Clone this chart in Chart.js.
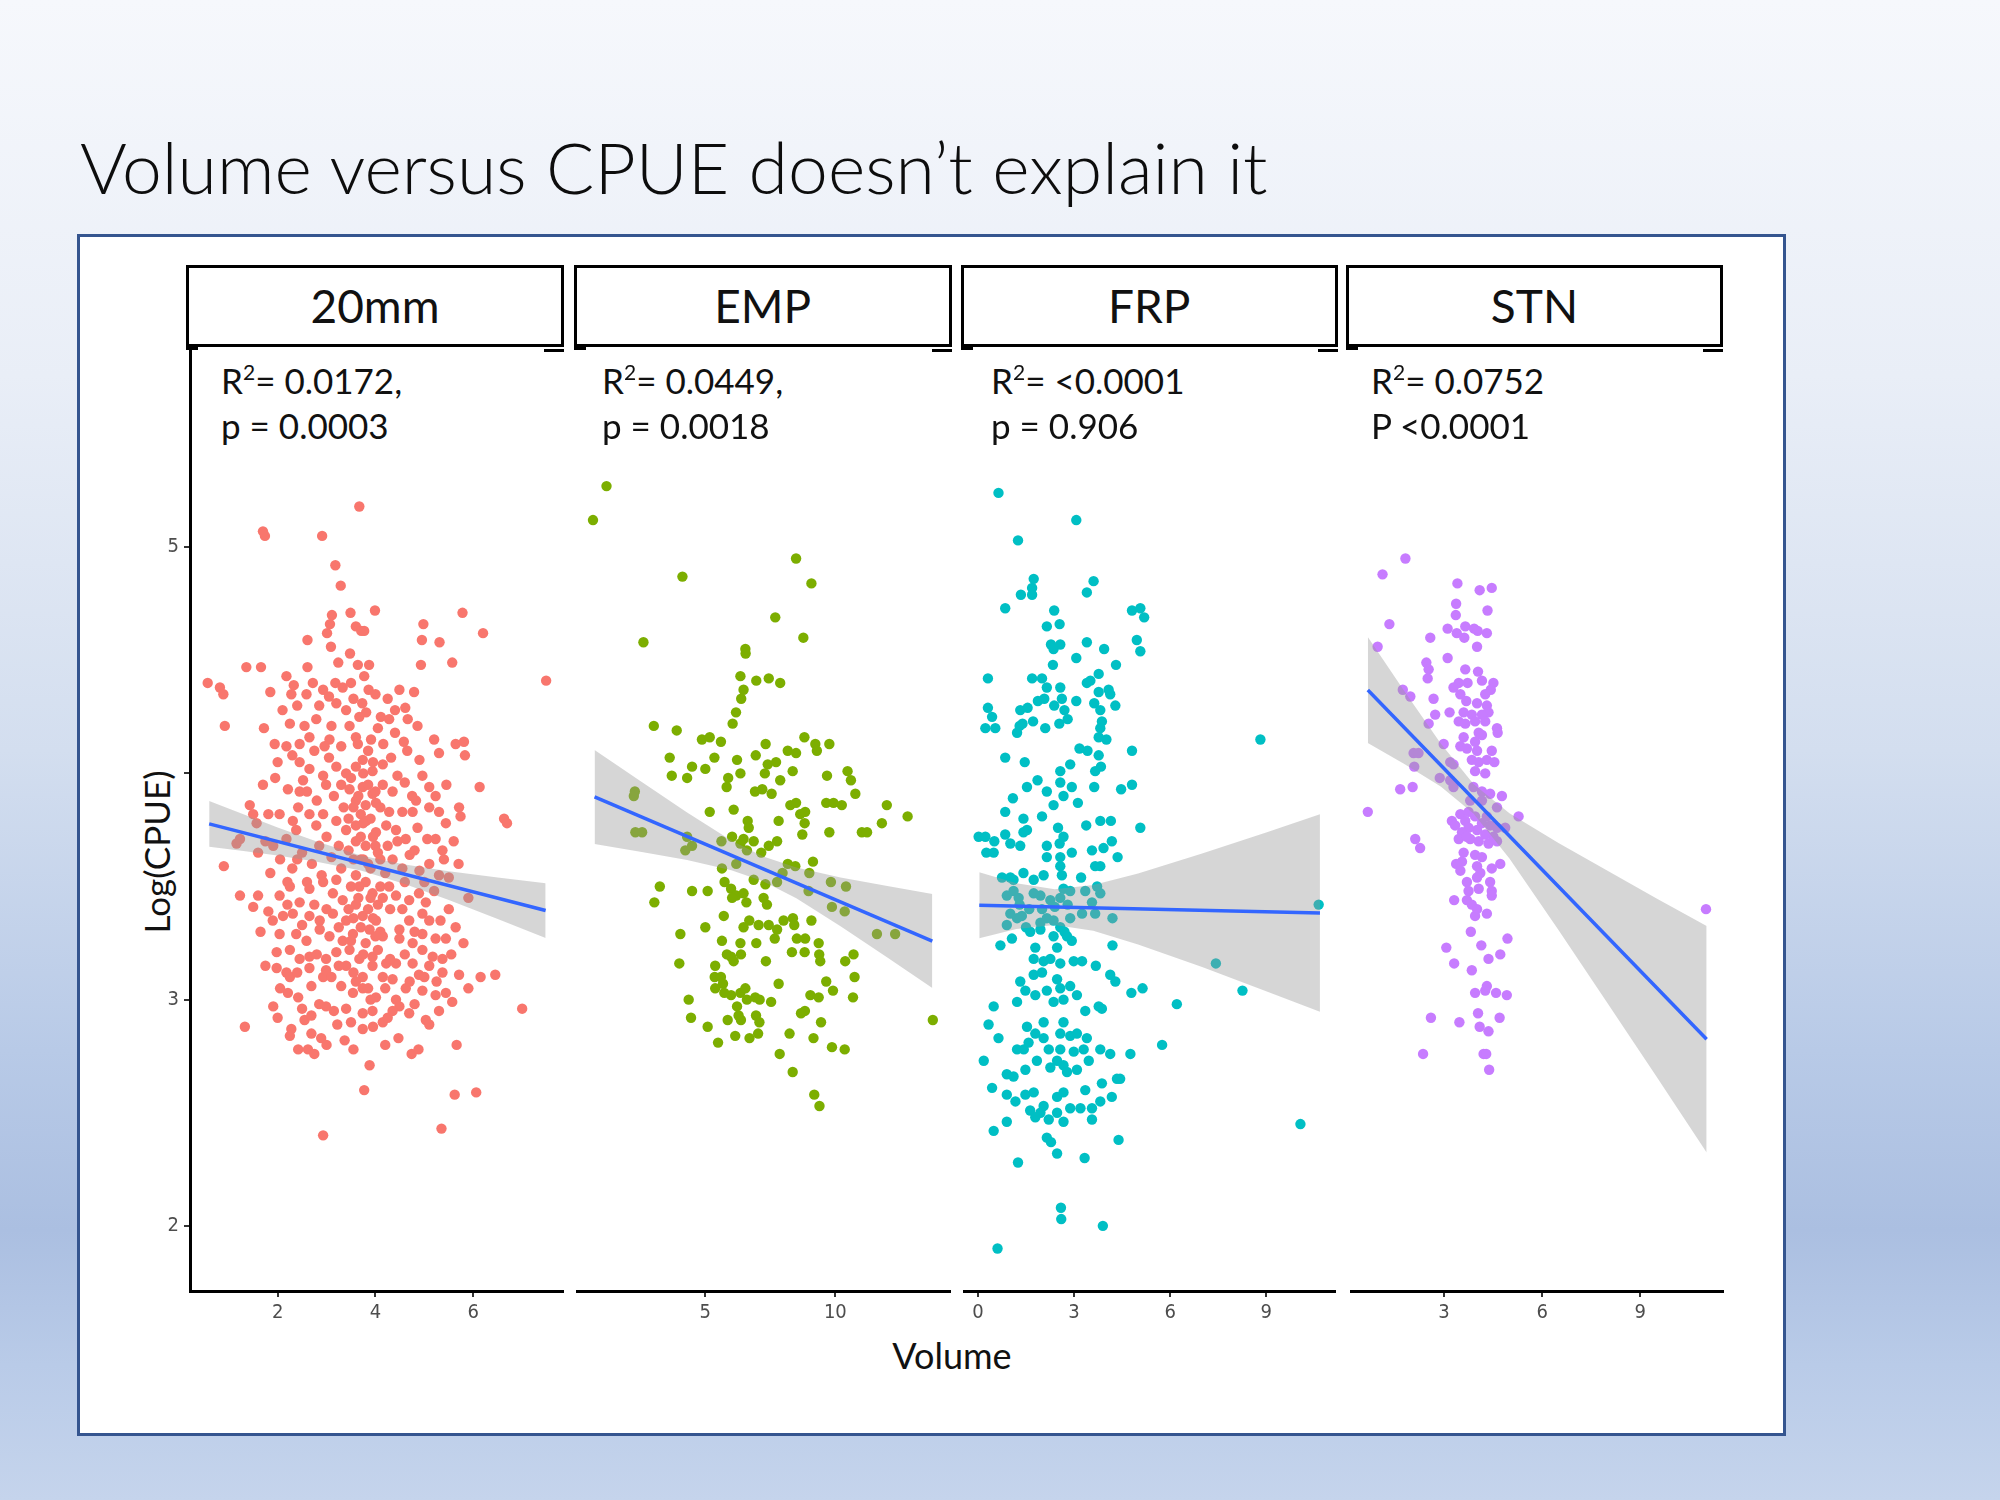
<!DOCTYPE html>
<html>
<head>
<meta charset="utf-8">
<title>Volume versus CPUE</title>
<script src="https://cdn.jsdelivr.net/npm/chart.js@4.4.1/dist/chart.umd.min.js"></script>
<style>
html, body { margin: 0; padding: 0; }
body {
  width: 2000px; height: 1500px; position: relative; overflow: hidden;
  background: linear-gradient(to bottom, #f6f8fc 0%, #e9eef7 25%, #d3deef 50%, #b8cae7 70%, #abbfe1 82%, #b9cbe8 91%, #c5d4ec 100%);
  font-family: Lato, 'Open Sans', sans-serif; color: #111;
}
#title { position: absolute; left: 80px; top: 131px; font-size: 71.5px; line-height: 1; font-weight: 300; white-space: nowrap; color: #0d0d0d; }
#frame { position: absolute; left: 77px; top: 234px; width: 1703px; height: 1196px; background: #fff; border: 3px solid #35558f; }
.strip { position: absolute; top: 265px; height: 82px; box-sizing: border-box; border: 3px solid #000; background: #fff;
  display: flex; align-items: center; justify-content: center; font-size: 46px; line-height: 1; }
.mk { position: absolute; top: 347px; height: 3px; background: #000; }
.ann { position: absolute; font-size: 35px; line-height: 1; white-space: nowrap; }
.ann .sup { font-size: 21px; position: relative; top: -14px; }
.panel { position: absolute; }
#xtitle { position: absolute; left: 952px; top: 1337px; font-size: 36px; line-height: 1; transform: translateX(-50%); white-space: nowrap; }
#ytitle { position: absolute; left: 156px; top: 852px; font-size: 35px; line-height: 1; white-space: nowrap;
  transform: translate(-50%, -50%) rotate(-90deg); }
</style>
</head>
<body>
<div id="title">Volume versus CPUE doesn’t explain it</div>
<div id="frame"></div>
<div id="ytitle">Log(CPUE)</div>
<div id="xtitle">Volume</div>
<script>
// facet labels and the fit statistics printed in each panel
const facets = ['20mm', 'EMP', 'FRP', 'STN'];
const statLine1 = ['R<span class="sup">2</span>= 0.0172,', 'R<span class="sup">2</span>= 0.0449,', 'R<span class="sup">2</span>= &lt;0.0001', 'R<span class="sup">2</span>= 0.0752'];
const statLine2 = ['p = 0.0003', 'p = 0.0018', 'p = 0.906', 'P &lt;0.0001'];

// y axis (shared)
const yTicks = [2, 3, 4, 5];
const yTickLabels = ['2', '3', '', '5'];

// x axis ticks per facet
const xTicks20mm = [2, 4, 6];
const xTicksEMP = [5, 10];
const xTicksFRP = [0, 3, 6, 9];
const xTicksSTN = [3, 6, 9];

// observations [volume, log(CPUE)]
const pts20mm = [
[3.67,5.18],[1.74,5.05],[1.70,5.07],[2.91,5.05],[3.18,4.92],[3.29,4.83],[3.11,4.70],[3.49,4.71],[3.99,4.72],[5.78,4.71],[4.98,4.66],[6.20,4.62],[3.07,4.66],[3.01,4.62],[3.60,4.65],[3.71,4.63],[3.77,4.63],[2.61,4.59],[3.09,4.56],[4.95,4.59],[5.31,4.58],[3.48,4.53],[3.24,4.49],[3.64,4.48],[3.87,4.48],[2.61,4.47],[1.36,4.47],[1.66,4.47],[4.93,4.48],[5.57,4.49],[7.49,4.41],[0.57,4.40],[0.82,4.38],[0.89,4.35],[1.85,4.36],[2.18,4.43],[2.33,4.39],[2.28,4.35],[2.59,4.35],[2.72,4.40],[2.93,4.37],[3.18,4.40],[3.33,4.38],[3.50,4.40],[3.77,4.43],[3.86,4.37],[4.49,4.37],[4.79,4.36],[3.20,4.31],[3.40,4.28],[3.73,4.31],[4.61,4.29],[4.66,4.24],[4.86,4.21],[4.28,4.24],[4.11,4.25],[3.81,4.27],[3.67,4.25],[0.92,4.21],[1.72,4.20],[2.25,4.22],[2.55,4.21],[2.79,4.24],[3.10,4.21],[2.65,4.16],[3.06,4.15],[3.47,4.21],[3.91,4.15],[4.16,4.13],[4.58,4.14],[3.60,4.16],[3.64,4.13],[1.94,4.13],[2.18,4.12],[2.96,4.12],[2.45,4.13],[5.30,4.09],[5.64,4.13],[5.81,4.14],[5.83,4.08],
[2.45,4.05],[2.65,4.02],[2.52,3.97],[3.20,4.03],[3.40,4.00],[3.60,4.03],[3.74,4.06],[3.94,4.01],[4.15,4.04],[4.32,4.07],[4.45,3.99],[4.96,3.99],[5.10,3.94],[5.23,3.90],[6.13,3.94],[2.21,3.93],[2.45,3.92],[2.93,3.99],[2.99,3.95],
[3.47,3.93],[3.74,3.94],[3.94,3.91],[3.60,3.88],[4.01,3.87],[4.28,3.83],[4.55,3.83],[4.76,3.83],[4.83,3.88],[5.10,3.85],[5.30,3.83],[5.44,3.78],[5.71,3.85],[5.74,3.81],[6.63,3.80],[6.69,3.78],
[1.43,3.86],[1.50,3.82],[1.81,3.82],[2.04,3.82],[2.31,3.79],[2.42,3.85],[2.65,3.82],[2.79,3.77],[2.93,3.82],[3.20,3.79],[3.40,3.75],[3.60,3.77],[3.81,3.79],[4.01,3.74],[4.22,3.77],[4.42,3.75],[4.62,3.71],[4.86,3.76],[5.06,3.71],[5.23,3.71],[5.37,3.66],[5.40,3.62],
[1.16,3.69],[1.23,3.71],[1.57,3.78],[1.91,3.68],[2.18,3.71],[2.38,3.75],[0.90,3.59],
[2.05,3.62],[2.30,3.58],[2.50,3.65],[2.70,3.60],[2.90,3.55],[3.10,3.63],[3.30,3.58],[3.45,3.66],[3.60,3.55],[3.75,3.62],[3.90,3.58],[4.05,3.65],[4.20,3.56],[4.35,3.62],[4.55,3.58],[4.70,3.64],[4.90,3.57],[5.10,3.60],[5.30,3.55],[3.50,3.50],[3.80,3.52],[4.10,3.50],[2.60,3.52],[3.20,3.53],[1.85,3.56],[4.60,3.52],[5.50,3.54],[5.20,3.48],[3.65,3.90],[3.80,3.86],[3.90,3.80],[3.70,3.82],[3.85,3.95],[4.00,3.92],[3.55,3.85],[3.75,3.78],[3.95,3.72],[3.60,3.70],[3.80,3.68],[4.00,3.68],[3.70,3.62],
[1.23,3.46],[1.60,3.46],[1.50,3.41],[1.81,3.39],[2.04,3.46],[2.25,3.50],[2.45,3.43],[2.65,3.49],[2.93,3.52],[3.13,3.47],[3.33,3.44],[3.67,3.50],[3.94,3.47],[4.28,3.50],[4.42,3.46],[4.69,3.44],[4.89,3.47],[5.03,3.43],
[2.11,3.37],[2.31,3.38],[2.65,3.37],[2.86,3.35],[3.13,3.38],[3.40,3.35],[3.74,3.37],[4.01,3.35],[4.49,3.31],[4.69,3.35],[4.96,3.38],[5.33,3.35],[5.64,3.32],
[3.60,3.42],[3.85,3.40],[4.05,3.42],[3.70,3.32],[3.95,3.36],[4.10,3.30],[3.55,3.36],[3.80,3.25],
[2.04,3.29],[2.38,3.29],[2.59,3.26],[2.86,3.31],[3.06,3.28],[3.33,3.26],[3.54,3.29],[3.88,3.31],[4.15,3.28],[4.49,3.27],[4.76,3.25],[4.96,3.29],[5.23,3.27],[5.44,3.27],
[1.98,3.21],[2.25,3.22],[2.45,3.18],[2.65,3.19],[2.99,3.18],[3.20,3.21],[3.47,3.22],[3.67,3.18],[3.94,3.19],[4.22,3.16],[4.42,3.16],[4.76,3.16],[4.96,3.22],[5.17,3.19],[5.37,3.18],
[1.98,3.14],[2.18,3.12],[2.25,3.10],[2.65,3.14],[2.93,3.10],[2.99,3.13],[3.40,3.15],[3.74,3.10],[3.94,3.15],[4.15,3.10],[4.35,3.09],[4.89,3.11],[5.10,3.15],[5.37,3.12],[5.71,3.11],[6.15,3.10],[6.45,3.11],
[2.21,3.03],[2.42,3.01],[2.69,3.06],[3.30,3.06],[3.54,3.03],[3.74,3.05],[4.01,3.01],[4.42,3.00],[4.62,3.05],[4.96,3.04],[5.23,3.02],[5.44,3.03],[5.57,2.99],
[1.91,2.97],[2.99,2.97],[3.40,2.96],[3.74,2.94],[3.94,2.95],[4.49,2.97],[4.69,2.94],[7.00,2.96],[5.03,2.91],[5.10,2.89],
[1.33,2.88],[2.28,2.87],[2.25,2.84],[2.55,2.91],[2.69,2.93],[2.69,2.85],[2.89,2.83],[3.22,2.89],[3.37,2.82],[3.74,2.87],[4.15,2.90],[4.25,2.92],[4.47,2.83],
[2.42,2.78],[2.62,2.78],[3.88,2.71],[4.74,2.76],[4.88,2.78],[5.66,2.80],
[3.77,2.60],[5.62,2.58],[6.06,2.59],[5.35,2.43],[2.93,2.40],
[2.10,4.28],[2.40,4.30],[2.85,4.30],[3.05,4.34],[3.55,4.33],[4.00,4.35],[4.25,4.33],[4.40,4.28],
[2.00,4.05],[2.30,4.08],[2.75,4.10],[3.05,4.07],[3.30,4.12],[3.85,4.10],[4.05,4.20],[4.40,4.18],[4.65,4.10],[4.90,4.06],[5.20,4.15],
[1.70,3.95],[1.95,3.98],[2.60,3.92],[2.80,3.88],[3.15,3.90],[3.35,3.85],[4.15,3.95],[4.35,3.92],[4.60,3.96],[4.75,3.90],[5.45,3.95],[5.60,3.70],
[1.60,3.65],[1.75,3.70],[2.20,3.52],[2.40,3.62],[2.85,3.68],[3.00,3.72],[3.25,3.68],[4.25,3.68],[4.45,3.70],[4.80,3.66],[5.00,3.52],[5.70,3.60],[5.90,3.45],
[1.65,3.30],[1.90,3.35],[2.20,3.42],[2.50,3.33],[2.75,3.42],[3.00,3.40],[3.25,3.32],[3.45,3.40],[4.30,3.40],[4.55,3.40],[4.80,3.30],[5.10,3.35],[5.50,3.40],[5.80,3.25],
[1.75,3.15],[2.05,3.05],[2.40,3.12],[2.80,3.20],[3.10,3.10],[3.25,3.15],[3.55,3.12],[3.85,3.05],[4.05,3.22],[4.30,3.18],[4.60,3.20],[4.70,3.08],[5.00,3.10],[5.25,3.08],[5.55,3.20],[5.90,3.05],
[2.00,2.92],[2.50,2.96],[2.85,2.98],[3.15,2.95],[3.50,2.90],[3.95,2.88],[4.35,2.95],[4.80,2.98],[5.30,2.95],[3.00,2.80],[3.55,2.78],[4.20,2.80],[2.75,2.76],
[3.30,3.95],[3.50,3.98],[3.75,4.00],[3.95,4.05],[4.10,3.85],[3.45,3.80],[3.70,3.72],[3.55,3.62],[3.85,3.60],[4.10,3.62],[3.65,3.45],[3.90,3.45],[4.15,3.45],[3.50,3.26],[3.75,3.20],[4.00,3.28],[3.60,3.08],[3.90,3.00],[4.20,3.05]
];
const ptsEMP = [
[1.20,5.27],[0.68,5.12],[8.49,4.95],[9.08,4.84],[4.12,4.87],[7.69,4.69],[8.77,4.60],[2.62,4.58],[6.54,4.55],[6.55,4.53],[6.35,4.43],[6.96,4.41],[7.44,4.42],[7.88,4.40],[6.47,4.37],[6.38,4.33],[6.18,4.27],[6.05,4.22],[3.02,4.21],[3.90,4.19],
[4.87,4.15],[5.17,4.16],[5.60,4.14],[7.32,4.13],[8.81,4.16],[9.23,4.13],[9.77,4.13],[8.17,4.10],[8.49,4.09],[9.29,4.10],
[3.63,4.07],[4.49,4.03],[5.00,4.02],[5.35,4.07],[6.22,4.06],[6.94,4.08],[7.40,4.04],[7.72,4.05],[8.36,4.01],[6.35,4.00],
[3.71,3.99],[4.30,3.98],[5.88,3.98],[5.82,3.94],[7.29,4.00],[7.88,3.97],[9.68,3.99],[10.47,4.01],[10.60,3.97],[6.91,3.92],[7.19,3.93],[7.55,3.91],[10.77,3.91],
[2.29,3.92],[2.25,3.90],
[8.27,3.86],[8.49,3.87],[9.65,3.87],[9.93,3.87],[10.25,3.86],[11.98,3.86],[12.78,3.81],
[5.17,3.83],[6.09,3.84],[6.63,3.79],[6.67,3.76],[7.82,3.79],[8.65,3.82],[8.84,3.83],[8.82,3.78],[8.73,3.73],[9.77,3.74],[11.02,3.74],[11.22,3.74],[11.79,3.78],
[2.31,3.74],[2.57,3.74],[4.30,3.72],[4.23,3.66],[4.49,3.68],[5.62,3.70],[6.03,3.72],[6.35,3.69],[6.47,3.71],[6.86,3.70],[6.60,3.66],[7.44,3.68],[7.76,3.70],
[7.15,3.65],[6.19,3.60],[5.64,3.58],[8.17,3.60],[8.46,3.59],[9.14,3.61],[9.00,3.56],[7.97,3.56],[6.86,3.53],[7.31,3.51],[7.76,3.52],[9.83,3.52],[10.41,3.50],[8.97,3.48],
[3.25,3.50],[3.04,3.43],[4.49,3.48],[5.09,3.48],[5.74,3.52],[5.99,3.49],[6.19,3.46],[6.47,3.47],[6.58,3.43],[6.03,3.45],[7.24,3.45],[7.37,3.42],
[9.87,3.41],[10.36,3.39],[11.60,3.29],[12.30,3.29],
[5.71,3.37],[6.69,3.35],[6.47,3.32],[7.05,3.33],[7.44,3.33],[7.76,3.31],[8.01,3.35],[8.37,3.36],[8.42,3.33],[9.08,3.35],
[4.04,3.29],[5.00,3.32],[5.64,3.26],[6.35,3.25],[6.96,3.25],[7.67,3.27],[8.33,3.21],[8.52,3.27],[8.84,3.27],[8.82,3.21],[9.36,3.25],[9.38,3.20],[9.42,3.17],
[4.00,3.16],[5.83,3.20],[5.99,3.19],[6.09,3.17],[6.37,3.20],[7.33,3.17],[10.38,3.17],[10.70,3.20],[10.74,3.10],[10.68,3.01],[13.75,2.91],
[5.38,3.15],[5.36,3.10],[5.60,3.10],[5.68,3.07],[5.38,3.05],[5.73,3.03],[5.99,3.02],[6.35,3.03],[6.54,3.05],[6.60,3.00],[6.92,3.01],[7.09,3.00],[7.53,2.99],[7.82,3.07],[9.65,3.08],[9.91,3.04],[9.04,3.02],[9.36,3.01],
[4.36,3.00],[4.45,2.92],[5.09,2.88],[5.86,2.91],[6.22,2.97],[6.28,2.93],[6.37,2.91],[6.95,2.93],[7.08,2.90],[6.15,2.84],[6.70,2.83],[7.03,2.85],[5.49,2.81],[8.24,2.85],[8.83,2.95],[8.68,2.94],[9.16,2.83],[9.45,2.90],[9.87,2.79],[10.36,2.78],
[7.86,2.76],[8.36,2.68],[9.19,2.58],[9.39,2.53]
];
const ptsFRP = [
[0.64,5.24],[3.07,5.12],[1.25,5.03],[1.74,4.86],[3.61,4.85],[1.69,4.82],[1.34,4.79],[1.69,4.79],[3.40,4.80],[0.85,4.73],[2.38,4.72],[4.81,4.72],[5.07,4.73],[5.19,4.69],[2.15,4.65],[2.55,4.66],[4.96,4.59],[5.07,4.54],
[2.28,4.57],[2.57,4.57],[2.36,4.55],[3.40,4.58],[3.94,4.55],[3.07,4.51],[2.34,4.48],[4.31,4.48],
[0.31,4.42],[1.69,4.42],[2.00,4.42],[2.15,4.38],[2.57,4.38],[3.51,4.41],[3.77,4.44],[3.40,4.40],[3.77,4.36],[4.08,4.37],[4.13,4.35],
[0.31,4.29],[0.44,4.25],[0.23,4.20],[0.54,4.20],[1.22,4.18],[1.30,4.21],[1.39,4.22],[1.32,4.28],[1.55,4.29],[1.72,4.23],[1.87,4.32],[2.07,4.33],[2.38,4.30],[2.62,4.33],[2.70,4.28],[2.80,4.24],[2.54,4.22],[2.10,4.20],[3.07,4.32],[3.63,4.31],[3.82,4.28],[4.29,4.30],[3.87,4.23],[3.82,4.20],[4.01,4.15],[3.77,4.16],
[0.85,4.07],[1.46,4.05],[3.17,4.11],[3.42,4.10],[3.77,4.08],[4.81,4.10],[2.88,4.04],[3.66,4.01],[3.84,4.03],
[1.09,3.89],[1.53,3.94],[1.86,3.97],[2.57,4.01],[2.57,3.96],[2.15,3.92],[2.36,3.86],[2.67,3.90],[2.93,3.94],[3.12,3.87],[3.63,3.94],[4.47,3.93],[4.81,3.95],
[0.85,3.83],[1.42,3.80],[2.00,3.81],[1.53,3.75],[1.42,3.74],[2.50,3.76],[2.67,3.72],[3.38,3.77],[3.82,3.79],[4.15,3.79],[5.07,3.76],
[0.02,3.72],[0.23,3.72],[0.51,3.70],[0.26,3.65],[0.49,3.65],[0.85,3.73],[1.01,3.69],[1.32,3.68],[2.15,3.68],[2.55,3.69],[3.56,3.66],[3.92,3.67],[4.18,3.70],[4.36,3.63],[3.82,3.59],[3.66,3.59],
[2.15,3.63],[2.57,3.63],[2.93,3.65],[2.57,3.59],[2.62,3.55],[2.05,3.55],[1.42,3.56],[1.74,3.53],[1.11,3.53],[1.01,3.54],[0.75,3.54],
[0.90,3.46],[1.11,3.48],[1.27,3.45],[1.74,3.47],[1.95,3.46],[2.26,3.44],[2.57,3.45],[2.67,3.49],[2.88,3.48],[3.22,3.54],[3.35,3.48],[3.72,3.50],[3.82,3.47],
[1.30,3.42],[1.60,3.40],[2.00,3.40],[2.40,3.41],[2.80,3.42],[1.50,3.32],[2.70,3.30],
[1.01,3.38],[1.22,3.36],[0.90,3.33],[1.37,3.37],[1.95,3.34],[2.15,3.36],[2.36,3.35],[2.57,3.32],[2.88,3.36],[3.25,3.38],[3.66,3.38],[3.56,3.43],[4.20,3.36],[10.64,3.42],
[0.70,3.24],[1.06,3.27],[1.63,3.30],[1.95,3.31],[2.36,3.28],[2.47,3.23],[2.78,3.28],[2.93,3.26],[1.79,3.23],[4.20,3.24],[3.68,3.15],[4.13,3.11],[4.29,3.08],
[1.74,3.18],[2.05,3.17],[2.26,3.18],[2.57,3.16],[2.99,3.17],[3.25,3.17],[1.74,3.11],[2.00,3.12],[1.32,3.08],[1.48,3.04],[1.79,3.02],[2.15,3.04],[2.47,3.09],[2.57,3.05],[2.88,3.06],[3.09,3.02],[2.67,3.00],[2.36,2.99],[1.22,2.99],[0.49,2.97],[3.35,2.95],[3.77,2.97],[3.87,2.96],[4.79,3.03],[5.14,3.05],[7.43,3.16],[8.26,3.04],[6.21,2.98],
[0.33,2.89],[0.64,2.83],[1.53,2.88],[2.05,2.90],[1.79,2.85],[2.05,2.83],[2.67,2.90],[2.57,2.85],[2.88,2.84],[3.09,2.85],[3.40,2.83],[3.82,2.78],[4.13,2.76],[4.76,2.76],[5.75,2.80],[1.22,2.78],[1.43,2.78],[1.58,2.81],[2.21,2.78],[2.57,2.78],[2.99,2.77],[3.30,2.78],
[0.18,2.73],[0.90,2.67],[1.11,2.66],[1.48,2.69],[1.84,2.73],[2.26,2.70],[2.47,2.73],[2.67,2.71],[2.78,2.68],[3.09,2.69],[3.46,2.73],[4.44,2.65],[0.44,2.61],[0.90,2.58],[1.17,2.55],[1.48,2.58],[1.74,2.59],[2.05,2.53],[2.47,2.57],[2.67,2.59],[2.88,2.52],[3.20,2.52],[3.35,2.60],[3.56,2.52],[3.82,2.55],[3.87,2.63],[4.18,2.57],[4.34,2.65],
[1.63,2.51],[1.79,2.48],[1.95,2.50],[2.21,2.47],[2.47,2.50],[2.67,2.46],[3.56,2.47],[0.90,2.46],[0.49,2.42],[2.15,2.39],[2.28,2.37],[2.47,2.32],[4.39,2.38],[1.25,2.28],[3.33,2.30],[10.07,2.45],
[2.59,2.08],[2.60,2.03],[3.90,2.00],[0.61,1.90],[8.82,4.15]
];
const ptsSTN = [
[1.82,4.95],[1.12,4.88],[3.41,4.84],[4.09,4.81],[4.46,4.82],[3.37,4.75],[3.36,4.70],[4.33,4.72],[1.33,4.66],
[2.58,4.60],[3.11,4.64],[3.39,4.62],[3.62,4.60],[3.65,4.65],[3.92,4.64],[4.03,4.63],[4.31,4.62],[4.01,4.56],[0.97,4.56],[3.11,4.51],
[2.46,4.49],[2.53,4.46],[2.50,4.42],[3.65,4.46],[4.04,4.45],[3.45,4.40],[3.72,4.40],[4.16,4.41],[4.51,4.40],[3.29,4.38],[4.43,4.37],[4.26,4.35],
[1.74,4.37],[1.97,4.34],[2.68,4.33],[3.50,4.35],[3.68,4.32],[4.01,4.31],[4.31,4.30],[4.36,4.27],[4.16,4.26],[3.85,4.26],[3.60,4.27],[3.17,4.27],[3.45,4.23],[3.65,4.22],[3.95,4.23],[4.26,4.23],[2.73,4.26],[2.53,4.22],
[4.62,4.20],[4.64,4.18],[4.06,4.18],[4.16,4.17],[3.60,4.16],[3.95,4.14],[2.99,4.13],[3.50,4.12],[3.70,4.11],[4.01,4.10],[4.46,4.10],[3.19,4.05],[3.29,4.04],[3.85,4.06],[4.06,4.05],[4.31,4.06],[4.54,4.05],[3.95,4.01],[4.26,4.00],[2.07,4.09],[2.22,4.09],[2.09,4.03],[2.87,3.98],[1.66,3.93],[2.04,3.94],
[3.19,3.97],[3.29,3.94],[3.90,3.94],[4.16,3.92],[4.41,3.91],[4.77,3.90],[0.67,3.83],[4.16,3.88],[3.80,3.88],[4.62,3.85],[5.28,3.81],
[3.24,3.79],[3.50,3.82],[3.75,3.83],[3.65,3.79],[3.95,3.81],[4.16,3.78],[4.31,3.81],[4.41,3.77],[4.62,3.76],[4.51,3.72],[4.26,3.73],[4.01,3.75],[3.75,3.76],[3.55,3.74],[3.34,3.77],[3.80,3.71],[4.06,3.70],[4.36,3.69],[4.62,3.70],[4.87,3.76],[3.45,3.71],[3.70,3.72],
[2.12,3.71],[2.27,3.67],[3.60,3.65],[3.95,3.64],[4.16,3.63],[3.55,3.61],[3.37,3.60],[3.50,3.57],[4.01,3.59],[4.11,3.56],[4.46,3.58],[4.72,3.60],
[3.70,3.52],[4.01,3.54],[3.75,3.48],[4.06,3.49],[4.41,3.52],[4.46,3.48],[4.46,3.46],[3.31,3.44],[3.70,3.44],[3.85,3.42],[4.01,3.40],[3.95,3.37],[4.31,3.38],
[11.01,3.40],
[3.82,3.30],[4.94,3.27],[3.07,3.23],[3.31,3.16],[4.14,3.24],[4.72,3.20],[4.36,3.18],[3.85,3.13],
[3.95,3.03],[4.26,3.04],[4.31,3.06],[4.59,3.03],[4.92,3.02],[2.60,2.92],[3.47,2.90],[4.04,2.94],[4.09,2.88],[4.36,2.86],[4.70,2.92],[2.36,2.76],[4.21,2.76],[4.29,2.76],[4.38,2.69]
];

// fitted lines (end points) and confidence band edges
const fit20mm = [[0.60,3.777],[7.48,3.394]];
const fitEMP = [[0.74,3.896],[13.73,3.259]];
const fitFRP = [[0.04,3.417],[10.68,3.383]];
const fitSTN = [[0.67,4.369],[11.03,2.825]];

const band20mmX  = [0.60, 1.30, 2.00, 2.80, 3.70, 4.60, 5.50, 6.50, 7.48];
const band20mmHi = [3.878,3.819,3.761,3.699,3.637,3.597,3.568,3.540,3.515];
const band20mmLo = [3.676,3.657,3.637,3.609,3.571,3.511,3.440,3.356,3.273];
const bandEMPX  = [0.74, 2.50, 4.30, 6.00, 7.20, 8.50, 10.20, 12.00, 13.73];
const bandEMPHi = [4.104,3.966,3.827,3.704,3.634,3.584,3.540,3.502,3.467];
const bandEMPLo = [3.688,3.654,3.617,3.572,3.524,3.448,3.324,3.186,3.051];
const bandFRPX  = [0.04, 1.20, 2.40, 3.60, 5.00, 7.00, 9.00, 10.68];
const bandFRPHi = [3.563,3.514,3.488,3.507,3.558,3.646,3.739,3.820];
const bandFRPLo = [3.271,3.312,3.330,3.305,3.244,3.144,3.037,2.946];
const bandSTNX  = [0.67, 1.80, 2.90, 3.90, 5.00, 6.50, 8.00, 9.50, 11.03];
const bandSTNHi = [4.603,4.361,4.132,3.953,3.824,3.692,3.570,3.447,3.326];
const bandSTNLo = [4.135,4.041,3.942,3.823,3.624,3.308,2.984,2.659,2.324];

const colors = ['#F8766D', '#7CAE00', '#00BFC4', '#C77CFF'];

// ---- layout (page pixels) ----
const PLOT_TOP = 347, PLOT_BOTTOM = 1291;
const Y_MIN = 1.712, Y_MAX = 5.885;
const panels = [
  { pts: pts20mm, fit: fit20mm, bx: band20mmX, hi: band20mmHi, lo: band20mmLo, ticks: xTicks20mm, xmin: 0.208, xmax: 7.835, left: 189.8, right: 563.0, strip: [186, 564], ann: 221 },
  { pts: ptsEMP,  fit: fitEMP,  bx: bandEMPX,  hi: bandEMPHi,  lo: bandEMPLo,  ticks: xTicksEMP,  xmin: 0.065, xmax: 14.41, left: 577.0, right: 950.2, strip: [574, 951.5], ann: 602 },
  { pts: ptsFRP,  fit: fitFRP,  bx: bandFRPX,  hi: bandFRPHi,  lo: bandFRPLo,  ticks: xTicksFRP,  xmin: -0.437, xmax: 11.15, left: 964.3, right: 1335.4, strip: [960.5, 1338], ann: 991 },
  { pts: ptsSTN,  fit: fitSTN,  bx: bandSTNX,  hi: bandSTNHi,  lo: bandSTNLo,  ticks: xTicksSTN,  xmin: 0.156, xmax: 11.53, left: 1350.8, right: 1723.2, strip: [1345.7, 1723.2], ann: 1371 }
];

const TICK_FONT = { family: "'Liberation Sans Narrow', 'DejaVu Sans Condensed', 'Liberation Sans', Arial, sans-serif", size: 20 };
const TOP_PAD = 20, XAXIS_H = 60, YAXIS_W = 60, SIDE_PAD = 10;

function addDiv(cls, html, style) {
  const d = document.createElement('div');
  d.className = cls;
  d.innerHTML = html;
  Object.assign(d.style, style);
  document.body.appendChild(d);
  return d;
}

panels.forEach((p, i) => {
  // facet strip
  const sw = p.strip[1] - p.strip[0];
  addDiv('strip', facets[i], { left: p.strip[0] + 'px', width: sw + 'px' });
  addDiv('mk', '', { left: p.strip[0] + 'px', width: '12px' });
  addDiv('mk', '', { left: (p.strip[1] - 20) + 'px', width: '20px', top: '349px' });

  // stats text (baselines about 394 / 439)
  addDiv('ann', statLine1[i], { left: p.ann + 'px', top: '363px' });
  addDiv('ann', statLine2[i], { left: p.ann + 'px', top: '408px' });

  const showY = i === 0;
  const padL = showY ? YAXIS_W : SIDE_PAD;
  const w = Math.round(p.right - p.left + padL + SIDE_PAD);
  const h = PLOT_BOTTOM - PLOT_TOP + TOP_PAD + XAXIS_H;
  const wrap = addDiv('panel', '', { left: (p.left - padL) + 'px', top: (PLOT_TOP - TOP_PAD) + 'px', width: w + 'px', height: h + 'px' });
  const cv = document.createElement('canvas');
  cv.width = w; cv.height = h;
  wrap.appendChild(cv);

  new Chart(cv, {
    type: 'scatter',
    data: {
      datasets: [
        { data: p.pts.map(([x, y]) => ({ x, y })), backgroundColor: colors[i], borderWidth: 0, pointRadius: 5.2, order: 3 },
        { type: 'line', data: p.bx.map((x, k) => ({ x, y: p.hi[k] })), borderWidth: 0, pointRadius: 0, fill: false, tension: 0, order: 2 },
        { type: 'line', data: p.bx.map((x, k) => ({ x, y: p.lo[k] })), borderWidth: 0, pointRadius: 0, fill: 1, tension: 0,
          backgroundColor: 'rgba(153,153,153,0.4)', order: 2 },
        { type: 'line', data: p.fit.map(([x, y]) => ({ x, y })), borderColor: '#3366FF', borderWidth: 3.5, pointRadius: 0, fill: false, order: 0 }
      ]
    },
    options: {
      responsive: false,
      animation: false,
      events: [],
      layout: { padding: { top: TOP_PAD, left: showY ? 0 : SIDE_PAD, right: SIDE_PAD, bottom: 0 } },
      plugins: { legend: { display: false }, tooltip: { enabled: false } },
      scales: {
        x: {
          type: 'linear', min: p.xmin, max: p.xmax,
          afterBuildTicks: s => { s.ticks = p.ticks.map(v => ({ value: v })); },
          afterFit: s => { s.height = XAXIS_H; },
          grid: { display: true, drawOnChartArea: false, drawTicks: true, tickLength: 6, color: '#333', lineWidth: 2 },
          border: { display: true, color: '#000', width: 3 },
          ticks: { color: '#4D4D4D', font: TICK_FONT, padding: 4, maxRotation: 0, autoSkip: false }
        },
        y: {
          type: 'linear', display: showY, min: Y_MIN, max: Y_MAX,
          afterBuildTicks: s => { s.ticks = yTicks.map(v => ({ value: v })); },
          afterFit: s => { s.width = showY ? YAXIS_W : 0; },
          grid: { display: true, drawOnChartArea: false, drawTicks: true, tickLength: 6, color: '#333', lineWidth: 2 },
          border: { display: true, color: '#000', width: 3 },
          ticks: { color: '#4D4D4D', font: TICK_FONT, padding: 5, callback: v => yTickLabels[yTicks.indexOf(v)] }
        }
      }
    }
  });
});
</script>
</body>
</html>
